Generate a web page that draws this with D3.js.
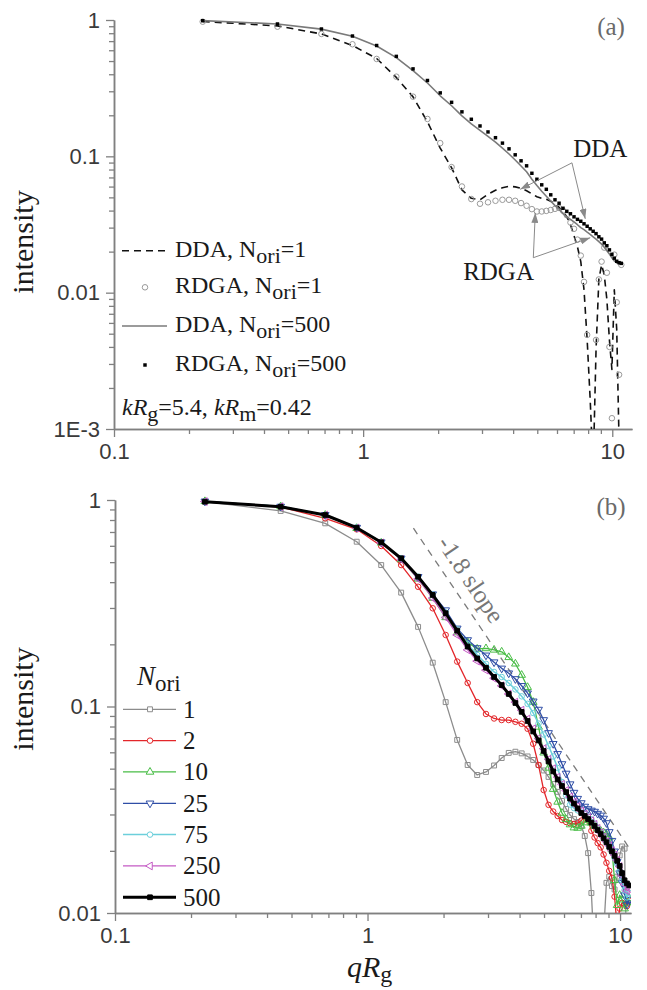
<!DOCTYPE html>
<html>
<head>
<meta charset="utf-8">
<script src="https://cdn.jsdelivr.net/npm/d3@7/dist/d3.min.js"></script>
<style>
  body { margin: 0; background: #fff; }
  svg { display: block; }
</style>
</head>
<body>
<svg id="chart" width="647" height="990"></svg>
<script>
// q*Rg sampling shared by all curves
const qRg = [0.227, 0.453, 0.680, 0.906, 1.133, 1.359, 1.586, 1.812, 2.039, 2.265,
  2.492, 2.718, 2.945, 3.171, 3.398, 3.624, 3.851, 4.077, 4.304, 4.530,
  4.757, 4.983, 5.210, 5.436, 5.663, 5.889, 6.116, 6.342, 6.569, 6.795,
  7.022, 7.248, 7.475, 7.701, 7.928, 8.154, 8.381, 8.607, 8.834, 9.060,
  9.287, 9.513, 9.740, 9.966, 10.19, 10.42, 10.65, 10.87];

// panel (a)
const ddaOne = [0.975, 0.905, 0.79, 0.65, 0.522, 0.379, 0.273, 0.179, 0.115, 0.0824,
  0.0568, 0.0492, 0.048, 0.0527, 0.0564, 0.0588, 0.0603, 0.0597, 0.0583, 0.0559,
  0.0531, 0.0505, 0.0492, 0.0484, 0.0468, 0.0449, 0.0423, 0.0392, 0.036, 0.0315,
  0.0262, 0.0217, 0.0169, 0.0105, 0.00453, 0.00164, 0.0005, 0.00382, 0.0125, 0.016,
  0.0135, 0.0089, 0.0045, 0.00273, 0.0105, 0.00536, 0.0008, 0.0005];
const rdgaOne = [0.972, 0.893, 0.79, 0.664, 0.518, 0.384, 0.274, 0.188, 0.125, 0.0834,
  0.0601, 0.0486, 0.0449, 0.046, 0.0472, 0.048, 0.048, 0.0472, 0.0454, 0.0434,
  0.041, 0.0394, 0.0394, 0.0398, 0.0404, 0.0412, 0.0418, 0.040, 0.037, 0.0327,
  0.0294, 0.0245, 0.0187, 0.012, 0.0049, 0.0008, 0.0007, 0.0045, 0.0125, 0.0169,
  0.0214, 0.014, 0.004, 0.0012, 0.019, 0.0085, 0.0025, 0.016];
const ddaFiveHundred = [0.99, 0.935, 0.857, 0.76, 0.645, 0.53, 0.425, 0.345, 0.278, 0.235,
  0.198, 0.173, 0.155, 0.140, 0.127, 0.115, 0.104, 0.094, 0.085, 0.077,
  0.068, 0.061, 0.0555, 0.051, 0.047, 0.0435, 0.041, 0.038, 0.036, 0.0345,
  0.033, 0.0315, 0.030, 0.029, 0.0278, 0.0268, 0.0257, 0.0247, 0.0237, 0.0227,
  0.0215, 0.0203, 0.0192, 0.018, 0.0171, 0.0165, 0.0163, 0.0162];
const rdgaFiveHundred = [0.988, 0.935, 0.859, 0.763, 0.650, 0.541, 0.438, 0.360, 0.292, 0.249,
  0.212, 0.187, 0.167, 0.151, 0.137, 0.125, 0.1135, 0.1026, 0.0927, 0.0852,
  0.0751, 0.0679, 0.0618, 0.0573, 0.0522, 0.048, 0.0453, 0.0416, 0.0395, 0.0379,
  0.036, 0.0345, 0.0334, 0.032, 0.0307, 0.0294, 0.0282, 0.0271, 0.0257, 0.0247,
  0.0232, 0.0221, 0.0206, 0.0191, 0.0179, 0.017, 0.0166, 0.0164];

// panel (b), one array per number of orientations
const nOne = [0.981, 0.885, 0.771, 0.628, 0.484, 0.356, 0.243, 0.163, 0.105, 0.0689,
  0.0521, 0.0466, 0.0482, 0.0518, 0.0563, 0.0596, 0.0604, 0.0593, 0.0573, 0.0551,
  0.0521, 0.049, 0.0456, 0.0421, 0.0386, 0.0349, 0.0319, 0.0298, 0.0285, 0.0276,
  0.0264, 0.0236, 0.0195, 0.0125, 0.006, 0.005, 0.006, 0.008, 0.014, 0.015,
  0.0135, 0.013, 0.015, 0.019, 0.021, 0.0205, 0.005, 0.004];
const nTwo = [0.985, 0.925, 0.815, 0.721, 0.599, 0.484, 0.38, 0.299, 0.222, 0.165,
  0.13, 0.105, 0.092, 0.0875, 0.086, 0.086, 0.0843, 0.0825, 0.078, 0.066,
  0.052, 0.0394, 0.0334, 0.031, 0.0295, 0.0282, 0.0276, 0.0272, 0.027, 0.0272,
  0.028, 0.0292, 0.028, 0.025, 0.0232, 0.0218, 0.0208, 0.0192, 0.0175, 0.016,
  0.0148, 0.012, 0.0085, 0.0105, 0.0112, 0.011, 0.0108, 0.0115];
const nTen = [0.985, 0.93, 0.845, 0.73, 0.62, 0.515, 0.415, 0.335, 0.27, 0.228,
  0.205, 0.19, 0.191, 0.188, 0.184, 0.173, 0.161, 0.142, 0.124, 0.105,
  0.0796, 0.0597, 0.0504, 0.0398, 0.0345, 0.0305, 0.0284, 0.0268, 0.0259, 0.0258,
  0.0264, 0.0274, 0.0282, 0.0273, 0.0264, 0.0256, 0.025, 0.0245, 0.024, 0.0232,
  0.0203, 0.0144, 0.0109, 0.0122, 0.0116, 0.0105, 0.0112, 0.0118];
const nTwentyFive = [0.985, 0.93, 0.848, 0.735, 0.625, 0.522, 0.425, 0.35, 0.293, 0.239,
  0.21, 0.192, 0.177, 0.164, 0.153, 0.145, 0.136, 0.126, 0.116, 0.106,
  0.0967, 0.0861, 0.0745, 0.066, 0.059, 0.0527, 0.0474, 0.0421, 0.0383, 0.0358,
  0.0341, 0.0328, 0.0319, 0.0314, 0.031, 0.0303, 0.0297, 0.0287, 0.0273, 0.0247,
  0.0224, 0.0199, 0.0177, 0.0156, 0.014, 0.0122, 0.011, 0.0116];
const nSeventyFive = [0.983, 0.93, 0.847, 0.735, 0.625, 0.522, 0.425, 0.348, 0.285, 0.236,
  0.2, 0.178, 0.161, 0.147, 0.139, 0.13, 0.121, 0.112, 0.103, 0.093,
  0.0827, 0.0732, 0.0644, 0.0573, 0.0504, 0.0431, 0.0371, 0.0335, 0.0322, 0.0314,
  0.0307, 0.0302, 0.0293, 0.0284, 0.0271, 0.0258, 0.0247, 0.0235, 0.0223, 0.021,
  0.0197, 0.0185, 0.0173, 0.016, 0.0144, 0.0129, 0.0119, 0.0125];
const nTwoFifty = [0.983, 0.929, 0.845, 0.732, 0.62, 0.515, 0.415, 0.335, 0.27, 0.222,
  0.188, 0.166, 0.15, 0.137, 0.126, 0.115, 0.105, 0.096, 0.087, 0.078,
  0.07, 0.0625, 0.0555, 0.05, 0.0455, 0.042, 0.0392, 0.0365, 0.0345, 0.0328,
  0.0312, 0.0301, 0.029, 0.028, 0.0269, 0.0257, 0.0245, 0.0233, 0.0222, 0.0212,
  0.0201, 0.0191, 0.018, 0.0168, 0.0152, 0.0138, 0.0128, 0.0131];
const nFiveHundred = [0.981, 0.928, 0.846, 0.734, 0.624, 0.522, 0.425, 0.347, 0.283, 0.233,
  0.195, 0.171, 0.154, 0.139, 0.127, 0.115, 0.104, 0.0942, 0.0851, 0.0757,
  0.0685, 0.0609, 0.0542, 0.0485, 0.0443, 0.0412, 0.0385, 0.0358, 0.0339, 0.0321,
  0.0305, 0.0295, 0.0285, 0.0274, 0.0264, 0.0252, 0.0241, 0.023, 0.022, 0.0209,
  0.0199, 0.0189, 0.0179, 0.0169, 0.0156, 0.0144, 0.0139, 0.0136];

const oriLabels = ['1', '2', '10', '25', '75', '250', '500'];

const xTickValues = [0.1, 1, 10];
const xTickLabels = ['0.1', '1', '10'];
const yTickValuesA = [0.001, 0.01, 0.1, 1];
const yTickLabelsA = ['1E-3', '0.01', '0.1', '1'];
const yTickValuesB = [0.01, 0.1, 1];
const yTickLabelsB = ['0.01', '0.1', '1'];

// -1.8 slope guide, two end points
const slopeGuide = [[1.52, 0.73], [10.8, 0.0209]];

const AXIS = '#808080';
const SANS = '"Liberation Sans", Arial, sans-serif';
const SERIF = '"Liberation Serif", "Times New Roman", serif';

const svg = d3.select('#chart');
const defs = svg.append('defs');

defs.append('marker')
    .attr('id', 'arrow')
    .attr('viewBox', '0 0 10 7')
    .attr('refX', 10)
    .attr('refY', 3.5)
    .attr('markerWidth', 10)
    .attr('markerHeight', 7)
    .attr('markerUnits', 'userSpaceOnUse')
    .attr('orient', 'auto')
    .append('path')
    .attr('d', 'M0,0 L10,3.5 L0,7 Z')
    .attr('fill', '#8a8a8a');

const xA = d3.scaleLog().domain([0.1, 12]).range([114, 632]);
const yA = d3.scaleLog().domain([1e-3, 1]).range([429, 20]);
const xB = d3.scaleLog().domain([0.1, 11.05]).range([115, 631]);
const yB = d3.scaleLog().domain([0.01, 1]).range([913, 500]);

drawPanelA();
drawPanelB();

function minorTicks(domain) {
    const out = [];
    const lo = Math.floor(Math.log10(domain[0]));
    const hi = Math.ceil(Math.log10(domain[1]));
    for (let e = lo; e <= hi; e++) {
        for (let k = 2; k <= 9; k++) {
            const v = k * Math.pow(10, e);
            if (v > domain[0] && v < domain[1]) out.push(v);
        }
    }
    return out;
}

function styleAxis(g) {
    g.select('.domain').attr('stroke', AXIS).attr('stroke-width', 1.5);
    g.selectAll('.tick line').attr('stroke', AXIS).attr('stroke-width', 1.3);
    g.selectAll('.tick text')
        .attr('font-family', SANS)
        .attr('font-size', 22)
        .attr('fill', '#3a3a3a');
}

function drawAxes(x, y, yValues, yLabels) {
    const yBase = y.range()[0];
    const xBase = x.range()[0];

    svg.append('g')
        .attr('transform', `translate(0,${yBase})`)
        .call(d3.axisBottom(x).tickValues(minorTicks(x.domain())).tickSize(5).tickSizeOuter(0).tickFormat(''))
        .call(styleAxis);
    svg.append('g')
        .attr('transform', `translate(0,${yBase})`)
        .call(d3.axisBottom(x).tickValues(xTickValues).tickSize(8).tickPadding(6).tickSizeOuter(0)
            .tickFormat((d, i) => xTickLabels[i]))
        .call(styleAxis);

    svg.append('g')
        .attr('transform', `translate(${xBase},0)`)
        .call(d3.axisLeft(y).tickValues(minorTicks(y.domain())).tickSize(5).tickSizeOuter(0).tickFormat(''))
        .call(styleAxis);
    svg.append('g')
        .attr('transform', `translate(${xBase},0)`)
        .call(d3.axisLeft(y).tickValues(yValues).tickSize(8).tickPadding(6).tickSizeOuter(0)
            .tickFormat((d, i) => yLabels[i]))
        .call(styleAxis);
}

function clipFor(id, x, y) {
    defs.append('clipPath')
        .attr('id', id)
        .append('rect')
        .attr('x', x.range()[0])
        .attr('y', y.range()[1] - 8)
        .attr('width', x.range()[1] - x.range()[0])
        .attr('height', y.range()[0] - y.range()[1] + 8);
    return svg.append('g').attr('clip-path', `url(#${id})`);
}

function drawLine(g, x, y, values, stroke, width, dash) {
    const line = d3.line()
        .x((d) => x(d[0]))
        .y((d) => y(d[1]));

    g.append('path')
        .datum(qRg.map((q, i) => [q, values[i]]))
        .attr('d', line)
        .attr('fill', 'none')
        .attr('stroke', stroke)
        .attr('stroke-width', width)
        .attr('stroke-dasharray', dash || null)
        .attr('stroke-linejoin', 'round');
}

function drawSymbols(g, x, y, values, sym) {
    const shape = d3.symbol().type(sym.type).size(sym.size);
    g.append('g')
        .selectAll('path')
        .data(qRg.map((q, i) => [q, values[i]]))
        .enter()
        .append('path')
        .attr('d', shape)
        .attr('transform', (d) => `translate(${x(d[0])},${y(d[1])}) rotate(${sym.rotate || 0})`)
        .attr('fill', sym.fill)
        .attr('stroke', sym.stroke)
        .attr('stroke-width', sym.strokeWidth || 1);
}

function subText(g, x, y, size, parts) {
    const t = g.append('text')
        .attr('x', x)
        .attr('y', y)
        .attr('font-family', SERIF)
        .attr('font-size', size)
        .attr('fill', '#1a1a1a');
    let shift = 0;
    parts.forEach((p) => {
        const target = p.sub ? 6 : 0;
        t.append('tspan')
            .attr('dy', target - shift)
            .attr('font-size', p.sub ? p.size || size - 3 : size)
            .attr('font-style', p.italic ? 'italic' : null)
            .text(p.text);
        shift = target;
    });
    return t;
}

function drawPanelA() {
    drawAxes(xA, yA, yTickValuesA, yTickLabelsA);
    const plot = clipFor('clip-a', xA, yA);

    const openCircle = { type: d3.symbolCircle, size: 24, fill: 'none', stroke: '#9a9a9a', strokeWidth: 1 };
    const smallSquare = { type: d3.symbolSquare, size: 12, fill: '#000', stroke: 'none' };

    drawLine(plot, xA, yA, ddaOne, '#111', 1.6, '7,5');
    drawSymbols(plot, xA, yA, rdgaOne, openCircle);
    drawLine(plot, xA, yA, ddaFiveHundred, '#7a7a7a', 1.6);
    drawSymbols(plot, xA, yA, rdgaFiveHundred, smallSquare);

    // legend
    const lg = svg.append('g');
    const rows = [250.7, 287.3, 326, 365];
    lg.append('line').attr('x1', 122).attr('x2', 170).attr('y1', rows[0]).attr('y2', rows[0])
        .attr('stroke', '#111').attr('stroke-width', 1.6).attr('stroke-dasharray', '7,5');
    lg.append('path').attr('d', d3.symbol().type(d3.symbolCircle).size(24))
        .attr('transform', `translate(145,${rows[1]})`).attr('fill', 'none').attr('stroke', '#9a9a9a');
    lg.append('line').attr('x1', 122).attr('x2', 167).attr('y1', rows[2]).attr('y2', rows[2])
        .attr('stroke', '#7a7a7a').attr('stroke-width', 1.6);
    lg.append('path').attr('d', d3.symbol().type(d3.symbolSquare).size(12))
        .attr('transform', `translate(145,${rows[3]})`).attr('fill', '#000');

    const legendText = ['DDA, N', 'RDGA, N', 'DDA, N', 'RDGA, N'];
    const legendVal = ['=1', '=1', '=500', '=500'];
    legendText.forEach((txt, i) => {
        subText(lg, 175, rows[i] + 6, 24, [
            { text: txt },
            { text: 'ori', sub: true, size: 22 },
            { text: legendVal[i] },
        ]);
    });

    subText(lg, 122, 415, 24, [
        { text: 'k', italic: true },
        { text: 'R', italic: true },
        { text: 'g', sub: true, size: 22 },
        { text: '=5.4, ' },
        { text: 'k', italic: true },
        { text: 'R', italic: true },
        { text: 'm', sub: true, size: 22 },
        { text: '=0.42' },
    ]);

    // annotations with arrows
    const notes = svg.append('g');
    const ddaFrom = [6.89, 0.0896];
    const ddaTo = [[4.27, 0.0573], [7.79, 0.0348]];
    const rdgaFrom = [4.82, 0.01805];
    const rdgaTo = [[4.91, 0.0385], [8.16, 0.0253]];
    [[ddaFrom, ddaTo], [rdgaFrom, rdgaTo]].forEach(([from, targets]) => {
        targets.forEach((to) => {
            notes.append('line')
                .attr('x1', xA(from[0])).attr('y1', yA(from[1]))
                .attr('x2', xA(to[0])).attr('y2', yA(to[1]))
                .attr('stroke', '#8a8a8a').attr('stroke-width', 1)
                .attr('marker-end', 'url(#arrow)');
        });
    });
    notes.append('text').attr('x', xA(6.97)).attr('y', yA(0.0992))
        .attr('font-family', SERIF).attr('font-size', 25).attr('fill', '#1a1a1a').text('DDA');
    notes.append('text').attr('x', xA(2.52)).attr('y', yA(0.01245))
        .attr('font-family', SERIF).attr('font-size', 25).attr('fill', '#1a1a1a').text('RDGA');

    svg.append('text').attr('x', 611).attr('y', 35).attr('text-anchor', 'middle')
        .attr('font-family', SERIF).attr('font-size', 25).attr('fill', '#6a6a6a').text('(a)');

    svg.append('text')
        .attr('transform', 'translate(33,242) rotate(-90)')
        .attr('text-anchor', 'middle')
        .attr('font-family', SERIF).attr('font-size', 30).attr('fill', '#1a1a1a')
        .text('intensity');
}

function drawPanelB() {
    drawAxes(xB, yB, yTickValuesB, yTickLabelsB);
    const plot = clipFor('clip-b', xB, yB);

    // -1.8 slope guide
    plot.append('line')
        .attr('x1', xB(slopeGuide[0][0])).attr('y1', yB(slopeGuide[0][1]))
        .attr('x2', xB(slopeGuide[1][0])).attr('y2', yB(slopeGuide[1][1]))
        .attr('stroke', '#7a7a7a').attr('stroke-width', 1.3).attr('stroke-dasharray', '7,6');

    const series = [
        { values: nOne, color: '#8c8c8c', width: 1.3, sym: { type: d3.symbolSquare, size: 24 } },
        { values: nTwo, color: '#e3262a', width: 1.3, sym: { type: d3.symbolCircle, size: 24 } },
        { values: nTen, color: '#49bd46', width: 1.3, sym: { type: d3.symbolTriangle, size: 26 } },
        { values: nTwentyFive, color: '#2f4ea6', width: 1.3, sym: { type: d3.symbolTriangle, size: 26, rotate: 180 } },
        { values: nSeventyFive, color: '#6ccfdb', width: 1.5, sym: { type: d3.symbolCircle, size: 24 } },
        { values: nTwoFifty, color: '#c45ac4', width: 1.3, sym: { type: d3.symbolTriangle, size: 26, rotate: -90 } },
        { values: nFiveHundred, color: '#000', width: 3, sym: { type: d3.symbolSquare, size: 22, filled: true } },
    ];

    series.forEach((s) => {
        drawLine(plot, xB, yB, s.values, s.color, s.width);
        drawSymbols(plot, xB, yB, s.values, {
            type: s.sym.type,
            size: s.sym.size,
            rotate: s.sym.rotate,
            fill: s.sym.filled ? s.color : 'none',
            stroke: s.color,
            strokeWidth: 1,
        });
    });

    // rotated slope label
    const p1 = [xB(slopeGuide[0][0]), yB(slopeGuide[0][1])];
    const p2 = [xB(slopeGuide[1][0]), yB(slopeGuide[1][1])];
    const angle = Math.atan2(p2[1] - p1[1], p2[0] - p1[0]) * 180 / Math.PI;
    svg.append('text')
        .attr('transform', `translate(${xB(2.41)},${yB(0.392)}) rotate(${angle})`)
        .attr('text-anchor', 'middle')
        .attr('font-family', SERIF).attr('font-size', 25).attr('fill', '#777')
        .text('-1.8 slope');

    // legend
    const lg = svg.append('g');
    subText(lg, 137, 685, 27, [
        { text: 'N', italic: true },
        { text: 'ori', sub: true, size: 23 },
    ]);
    series.forEach((s, i) => {
        const ry = 709.3 + i * 31.33;
        lg.append('line').attr('x1', 123).attr('x2', 176).attr('y1', ry).attr('y2', ry)
            .attr('stroke', s.color).attr('stroke-width', s.width);
        lg.append('path')
            .attr('d', d3.symbol().type(s.sym.type).size(s.sym.size))
            .attr('transform', `translate(150,${ry}) rotate(${s.sym.rotate || 0})`)
            .attr('fill', s.sym.filled ? s.color : '#fff')
            .attr('stroke', s.color);
        lg.append('text').attr('x', 183).attr('y', ry + 8.5)
            .attr('font-family', SERIF).attr('font-size', 25).attr('fill', '#1a1a1a')
            .text(oriLabels[i]);
    });

    svg.append('text').attr('x', 611).attr('y', 515).attr('text-anchor', 'middle')
        .attr('font-family', SERIF).attr('font-size', 25).attr('fill', '#6a6a6a').text('(b)');

    svg.append('text')
        .attr('transform', 'translate(33,699) rotate(-90)')
        .attr('text-anchor', 'middle')
        .attr('font-family', SERIF).attr('font-size', 30).attr('fill', '#1a1a1a')
        .text('intensity');

    const xt = svg.append('text').attr('x', 347).attr('y', 977)
        .attr('font-family', SERIF).attr('font-size', 30).attr('fill', '#1a1a1a');
    xt.append('tspan').attr('font-style', 'italic').text('qR');
    xt.append('tspan').attr('dy', 5).attr('font-size', 24).text('g');
}
</script>
</body>
</html>
